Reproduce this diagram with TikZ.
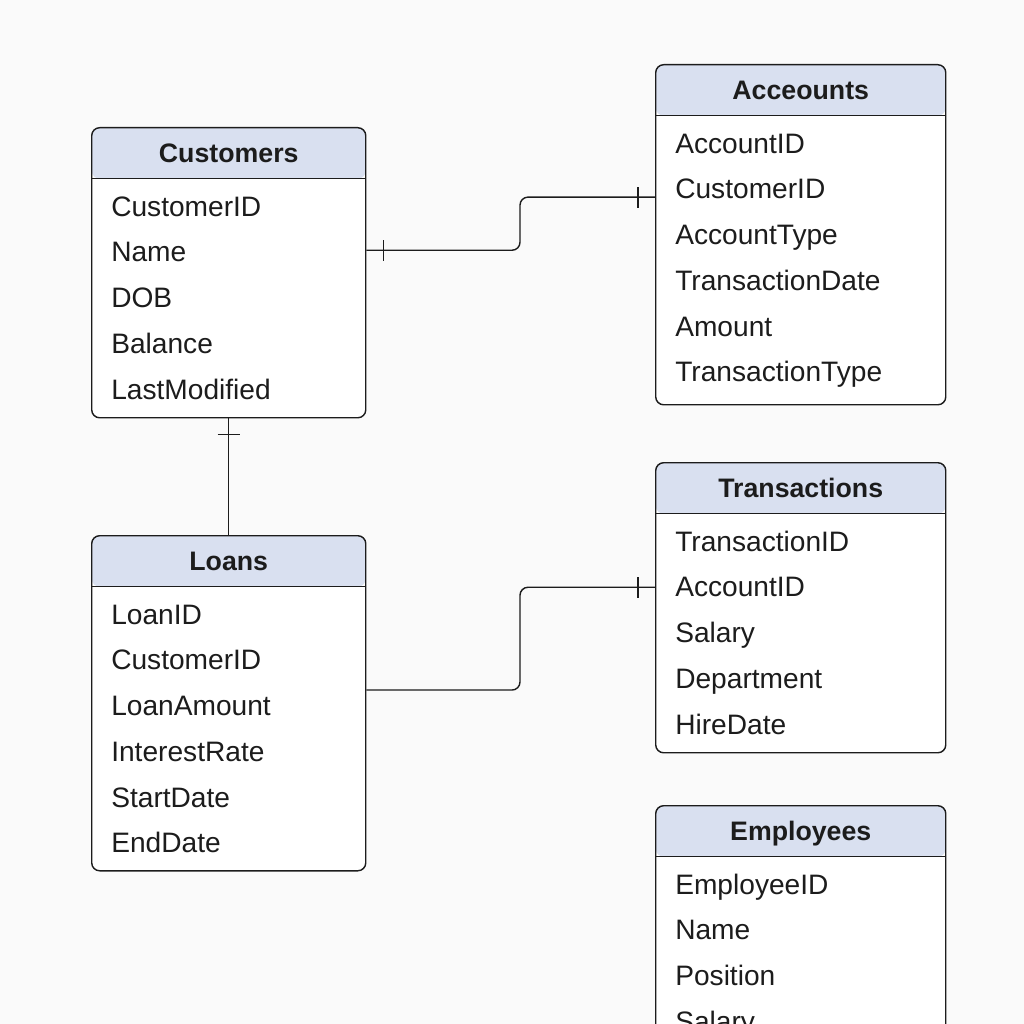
\documentclass[tikz,border=0pt]{standalone}
\usepackage{fontspec}
\setmainfont{Liberation Sans}
\usetikzlibrary{calc}

\definecolor{headblue}{HTML}{D9E0F0}
\definecolor{pagegray}{HTML}{FAFAFA}
\definecolor{inkdark}{HTML}{1C1C1C}

\begin{document}
\begin{tikzpicture}[x=0.025cm, y=-0.025cm,
        tablebox/.style={draw=inkdark, line width=1pt, fill=white, rounded corners=0.2cm,
            anchor=north west, inner sep=0pt,
            path picture={
                \fill[headblue] (path picture bounding box.north west) rectangle ([yshift=-1.275cm]path picture bounding box.north east);
                \draw[inkdark, line width=1pt] ([yshift=-1.275cm]path picture bounding box.north west) -- ([yshift=-1.275cm]path picture bounding box.north east);}},
        headtext/.style={font=\bfseries\fontsize{19}{22}\selectfont, text=inkdark, anchor=base, inner sep=0pt},
        rowtext/.style={font=\fontsize{20}{24}\selectfont, text=inkdark, anchor=base west, inner sep=0pt},
        relline/.style={draw=inkdark, line width=1pt, rounded corners=0.2cm},
        tickmark/.style={draw=inkdark, line width=1.2pt}]

    % page
    \useasboundingbox (0,0) rectangle (1024,1024);
    \fill[pagegray] (0,0) rectangle (1024,1024);
    \clip (0,0) rectangle (1024,1024);

    % tables
    \foreach \nm/\x/\y/\w/\h/\title/\rows in {
            cust/91/127/6.85/7.25/Customers/{CustomerID,Name,DOB,Balance,LastModified},
            acc/655/64/7.25/8.5/Acceounts/{AccountID,CustomerID,AccountType,TransactionDate,Amount,TransactionType},
            tran/655/462/7.25/7.25/Transactions/{TransactionID,AccountID,Salary,Department,HireDate},
            loan/91/535/6.85/8.375/Loans/{LoanID,CustomerID,LoanAmount,InterestRate,StartDate,EndDate},
            emp/655/805/7.25/10/Employees/{EmployeeID,Name,Position,Salary}}
    {
        \node[tablebox, minimum width=\w cm, minimum height=\h cm] (\nm) at (\x,\y) {};
        \node[headtext] (\nm-head) at ([yshift=-0.875cm]\nm.north) {\title};
        \foreach \r [count=\i] in \rows
            \node[rowtext] (\nm-\i) at ([xshift=0.5cm, yshift={-2.225cm-(\i-1)*1.144cm}]\nm.north west) {\r};
    }

    % end points of the links
    \coordinate (custR) at ($(cust.east |- cust-2)+(0,-2)$);
    \coordinate (accL) at ($(acc.west |- acc-2)+(0,8)$);
    \coordinate (bendA) at ($(accL)+(-135,0)$);
    \coordinate (loanR) at ($(loan.east |- loan-3)+(0,-16)$);
    \coordinate (tranL) at (tran.west |- tran-2);
    \coordinate (bendB) at ($(tranL)+(-135,0)$);

    % links
    \draw[relline] (custR) -| (bendA) -- (accL);
    \draw[relline] (cust.south) -- (loan.north);
    \draw[relline] (loanR) -| (bendB) -- (tranL);

    % one-side marks
    \draw[tickmark] ($(custR)+(17,-10)$) -- ++(0,21);
    \draw[tickmark] ($(accL)+(-17,-10)$) -- ++(0,21);
    \draw[tickmark] ($(tranL)+(-17,-10)$) -- ++(0,21);
    \draw[tickmark] ($(cust.south)+(-11,16)$) -- ++(22,0);

\end{tikzpicture}
\end{document}
